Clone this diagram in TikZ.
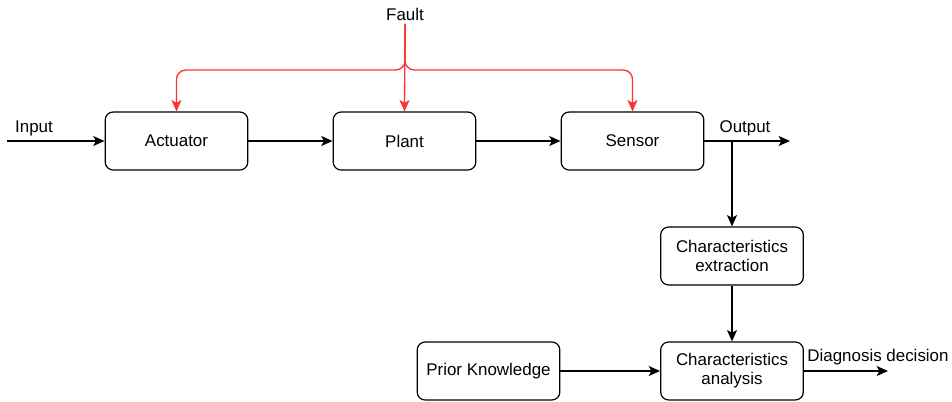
\documentclass[tikz,border=0pt]{standalone}
\usepackage{fontspec}
\setmainfont{Liberation Sans}
\usepackage{xcolor}
\usepackage{tikz}
\usetikzlibrary{arrows.meta}

\definecolor{faultred}{RGB}{255,51,51}

\begin{document}
\begin{tikzpicture}[x=0.75pt,y=0.75pt,yscale=-1,xscale=1,
  block/.style={draw, line width=0.9, rounded corners=6pt, minimum width=107pt, minimum height=43.5pt, align=center, inner sep=0.75pt, font=\fontsize{12.7}{14.3}\selectfont},
  lbl/.style={inner sep=0.75pt, font=\fontsize{12.7}{14.3}\selectfont},
  flow/.style={line width=1, -{Stealth[length=8.5pt,width=7.5pt,inset=2pt]}},
  faultflow/.style={flow, color=faultred, rounded corners=7pt}]
\useasboundingbox (0,0) rectangle (952,401);

%Shape: Rounded Rect
\node [block] (act) at (176.5,141) {Actuator};
%Shape: Rounded Rect
\node [block] (plant) at (404.5,141) {Plant};
%Shape: Rounded Rect
\node [block] (sens) at (632.5,141) {Sensor};
%Shape: Rounded Rect
\node [block] (extr) at (732,256) {Characteristics\\extraction};
%Shape: Rounded Rect
\node [block] (prior) at (488.5,371) {Prior Knowledge};
%Shape: Rounded Rect
\node [block] (anal) at (732,371) {Characteristics\\analysis};

% Text Node
\node [lbl, outer sep=2pt] (fault) at (405,14) {Fault};
% Text Node
\node [lbl] (inlbl) at (34,128) {Input};
% Text Node
\node [lbl] (outlbl) at (745,128) {Output};
% Text Node
\node [lbl] (diaglbl) at (878,357) {Diagnosis decision};

\coordinate (instart) at (7,141);
\coordinate (outend) at (790,141);
\coordinate (tap) at (732,141);
\coordinate (diagend) at (888,371);
\coordinate (fsplit) at (405,70);

%Straight Lines
\draw [flow] (instart) -- (act);
\draw [flow] (act) -- (plant);
\draw [flow] (plant) -- (sens);
\draw [flow] (sens) -- (outend);
\draw [flow] (tap) -- (extr);
\draw [flow] (extr) -- (anal);
\draw [flow] (prior) -- (anal);
\draw [flow] (anal) -- (diagend);

%Fault Lines
\draw [faultflow] (fault.south) -- (plant.north);
\draw [faultflow] (fault.south) |- (fsplit -| act.north) -- (act.north);
\draw [faultflow] (fault.south) |- (fsplit -| sens.north) -- (sens.north);
\end{tikzpicture}
\end{document}
